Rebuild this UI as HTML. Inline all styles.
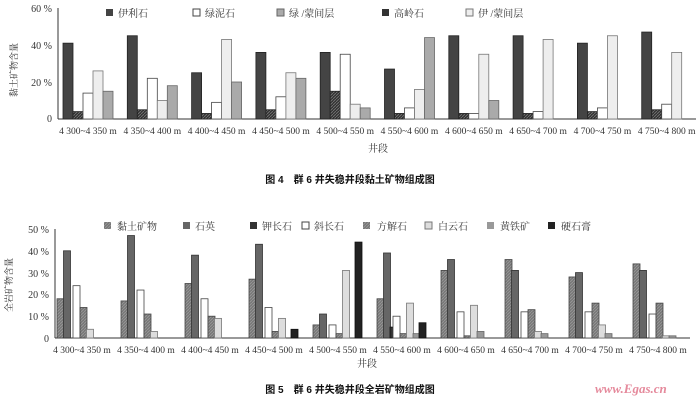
<!DOCTYPE html>
<html><head><meta charset="utf-8">
<style>
html,body{margin:0;padding:0;background:#fff;width:700px;height:403px;overflow:hidden}
svg text{font-family:"Liberation Serif","Noto Serif CJK SC",serif;fill:#333}
.cap{font-family:"Liberation Sans","Noto Sans CJK SC",sans-serif;font-weight:bold;fill:#111}
</style></head><body>
<svg id="s" width="700" height="403" viewBox="0 0 700 403" xmlns="http://www.w3.org/2000/svg">
<defs>
<pattern id="hd" width="3" height="3" patternUnits="userSpaceOnUse"><rect width="3" height="3" fill="#333"/><path d="M0 3L3 0" stroke="#777" stroke-width="0.8"/></pattern>
<pattern id="hm" width="3" height="3" patternUnits="userSpaceOnUse"><rect width="3" height="3" fill="#777"/><path d="M0 3L3 0" stroke="#999" stroke-width="0.8"/></pattern>
</defs>
<line x1="58" y1="8" x2="58" y2="119" stroke="#333"/>
<line x1="58" y1="119" x2="696" y2="119" stroke="#333"/>
<text x="52" y="12" font-size="10" text-anchor="end">60 %</text>
<text x="52" y="49" font-size="10" text-anchor="end">40 %</text>
<text x="52" y="86" font-size="10" text-anchor="end">20 %</text>
<text x="52" y="122" font-size="10" text-anchor="end">0</text>
<text transform="translate(17,70) rotate(-90)" font-size="9" text-anchor="middle">黏土矿物含量</text>
<g font-size="10">
<rect x="106" y="9" width="7" height="7" fill="#444"/><text x="118" y="17">伊利石</text>
<rect x="193" y="9" width="7" height="7" fill="#fff" stroke="#444"/><text x="205" y="17">绿泥石</text>
<rect x="277" y="9" width="7" height="7" fill="#aaa" stroke="#666"/><text x="289" y="17">绿 /蒙间层</text>
<rect x="382" y="9" width="7" height="7" fill="#333"/><text x="394" y="17">高岭石</text>
<rect x="466" y="9" width="7" height="7" fill="#eee" stroke="#777"/><text x="478" y="17">伊 /蒙间层</text>
</g>
<g id="c1"></g>
<g font-size="9.5" id="l1"></g>
<text x="368" y="152" font-size="10">井段</text>
<text x="350" y="183" font-size="10" class="cap" text-anchor="middle">图 4　群 6 井失稳井段黏土矿物组成图</text>
<line x1="55" y1="229" x2="55" y2="338" stroke="#333"/>
<line x1="55" y1="338" x2="690" y2="338" stroke="#333"/>
<text x="49" y="233" font-size="10" text-anchor="end">50 %</text>
<text x="49" y="255" font-size="10" text-anchor="end">40 %</text>
<text x="49" y="277" font-size="10" text-anchor="end">30 %</text>
<text x="49" y="298" font-size="10" text-anchor="end">20 %</text>
<text x="49" y="320" font-size="10" text-anchor="end">10 %</text>
<text x="49" y="342" font-size="10" text-anchor="end">0</text>
<text transform="translate(12,285) rotate(-90)" font-size="9" text-anchor="middle">全岩矿物含量</text>
<g font-size="10">
<rect x="104" y="222" width="7" height="7" fill="url(#hm)"/><text x="117" y="230">黏土矿物</text>
<rect x="183" y="222" width="7" height="7" fill="#666"/><text x="195" y="230">石英</text>
<rect x="250" y="222" width="7" height="7" fill="#333"/><text x="262" y="230">钾长石</text>
<rect x="302" y="222" width="7" height="7" fill="#fff" stroke="#444"/><text x="314" y="230">斜长石</text>
<rect x="363" y="222" width="7" height="7" fill="url(#hm)"/><text x="377" y="230">方解石</text>
<rect x="425" y="222" width="7" height="7" fill="#ddd" stroke="#777"/><text x="438" y="230">白云石</text>
<rect x="487" y="222" width="7" height="7" fill="#999"/><text x="500" y="230">黄铁矿</text>
<rect x="548" y="222" width="7" height="7" fill="#222"/><text x="561" y="230">硬石膏</text>
</g>
<g id="c2"></g>
<g font-size="9.5" id="l2"></g>
<text x="357" y="367" font-size="10">井段</text>
<text x="350" y="393" font-size="10" class="cap" text-anchor="middle">图 5　群 6 井失稳井段全岩矿物组成图</text>
<text x="595" y="393" font-size="13" font-style="italic" font-weight="bold" style="fill:#e58a9c">www.Egas.cn</text>
</svg>
<script>
var ns="http://www.w3.org/2000/svg";
function R(g,x,y,w,h,f,s){var r=document.createElementNS(ns,"rect");r.setAttribute("x",x);r.setAttribute("y",y);r.setAttribute("width",w);r.setAttribute("height",h);r.setAttribute("fill",f);if(s){r.setAttribute("stroke",s);r.setAttribute("stroke-width","0.8");}g.appendChild(r);}
function T(g,x,y,t){var e=document.createElementNS(ns,"text");e.setAttribute("x",x);e.setAttribute("y",y);e.setAttribute("text-anchor","middle");e.textContent=t;g.appendChild(e);}
var labels=["4 300~4 350 m","4 350~4 400 m","4 400~4 450 m","4 450~4 500 m","4 500~4 550 m","4 550~4 600 m","4 600~4 650 m","4 650~4 700 m","4 700~4 750 m","4 750~4 800 m"];
var d1=[[41,4,14,26,15],[45,5,22,10,18],[25,3,9,43,20],[36,5,12,25,22],[36,15,35,8,6],[27,3,6,16,44],[45,3,3,35,10],[45,3,4,43,0],[41,4,6,45,0],[47,5,8,36,0]];
var f1=[["#444","#222"],["url(#hd)","#222"],["#fff","#444"],["#eee","#777"],["#aaa","#666"]];
var g1=document.getElementById("c1"),l1=document.getElementById("l1");
for(var i=0;i<10;i++){var x0=63+64.3*i;for(var j=0;j<5;j++){var v=d1[i][j];if(!v)continue;var h=v*1.85;R(g1,x0+j*10,119-h,10,h,f1[j][0],f1[j][1]);}T(l1,x0+25,134,labels[i]);}
var d2=[[18,40,0,24,14,4,0,0],[17,47,0,22,11,3,0,0],[25,38,0,18,10,9,0,0],[27,43,0,14,3,9,0,4],[6,11,0,6,2,31,0,44],[18,39,5,10,2,16,2,7],[31,36,0,12,1,15,3,0],[36,31,0,12,13,3,2,0],[28,30,0,12,16,6,2,0],[34,31,0,11,16,1,1,0]];
var f2=[["url(#hm)","#444"],["#666","#333"],["#333","#111"],["#fff","#444"],["url(#hm)","#444"],["#ddd","#777"],["#999","#666"],["#222","#111"]];
var off=[0,6.5,13,16,23,29.5,36,42];
var g2=document.getElementById("c2"),l2=document.getElementById("l2");
for(var i=0;i<10;i++){var x0=57+64*i;for(var j=0;j<8;j++){var v=d2[i][j];if(!v)continue;var h=v*2.18;R(g2,x0+off[j],338-h,7,h,f2[j][0],f2[j][1]);}T(l2,x0+25,353,labels[i]);}
</script>
</body></html>
